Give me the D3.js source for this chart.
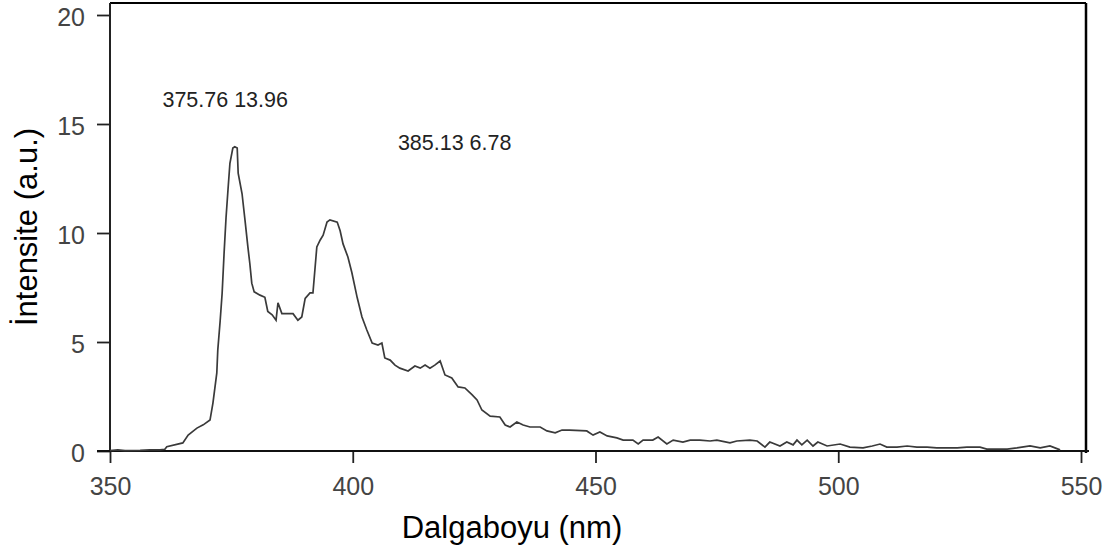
<!DOCTYPE html>
<html>
<head>
<meta charset="utf-8">
<script src="https://cdn.jsdelivr.net/npm/d3@7"></script>
<style>
  html, body { margin: 0; padding: 0; background: #fff; }
  svg { display: block; }
</style>
</head>
<body>
<svg id="chart" width="1112" height="554"></svg>
<script>
// ---- data ----
const wavelength = [350, 351.6, 353.1, 356.2, 358.2, 360.3, 361.3, 361.7, 365.0, 366.1, 367.9, 369.2, 370.6, 371.2, 372.0, 372.2, 372.7, 373.1, 373.5, 373.9, 374.3, 374.7, 375.3, 375.7, 376.2, 376.4, 377.2, 377.8, 378.4, 378.8, 379.2, 379.7, 380.9, 381.9, 382.5, 383.4, 384.2, 384.6, 385.4, 386.5, 387.7, 388.7, 389.5, 390.2, 391.2, 391.8, 392.6, 393.3, 393.9, 394.7, 395.3, 396.8, 397.4, 398.0, 399.0, 399.8, 400.9, 401.9, 402.9, 404.0, 405.2, 406.0, 406.6, 407.7, 408.7, 409.7, 411.4, 412.8, 413.9, 414.9, 415.9, 416.9, 418.0, 419.0, 420.4, 421.7, 423.1, 424.6, 425.6, 426.6, 428.3, 430.3, 431.4, 432.4, 433.8, 435.1, 436.5, 438.6, 440.0, 441.7, 443.1, 444.7, 448.2, 449.5, 450.9, 452.4, 454.4, 455.7, 457.7, 458.8, 459.8, 461.8, 462.9, 464.7, 466.0, 468.0, 469.5, 471.5, 473.6, 475.0, 477.7, 479.1, 481.8, 483.3, 484.9, 485.9, 488.0, 489.4, 490.7, 491.5, 492.5, 493.6, 494.8, 495.8, 497.7, 500.4, 502.4, 505.1, 507.0, 508.6, 510.0, 512.1, 514.2, 516.2, 518.3, 520.3, 521.6, 524.5, 526.5, 529.2, 530.6, 532.7, 534.8, 536.8, 539.5, 541.6, 543.6, 545.7];
const intensity = [0.02, 0.05, 0.02, 0.03, 0.05, 0.05, 0.08, 0.2, 0.37, 0.73, 1.05, 1.2, 1.42, 2.2, 3.58, 4.63, 6.0, 7.25, 9.08, 10.7, 11.97, 13.2, 13.9, 13.96, 13.9, 12.75, 11.8, 10.6, 9.36, 8.6, 7.7, 7.3, 7.15, 7.05, 6.4, 6.25, 6.0, 6.8, 6.3, 6.3, 6.3, 6.0, 6.15, 7.0, 7.25, 7.25, 9.36, 9.68, 9.9, 10.5, 10.6, 10.5, 10.1, 9.5, 8.9, 8.2, 7.05, 6.15, 5.55, 4.95, 4.86, 4.95, 4.27, 4.17, 3.94, 3.8, 3.67, 3.9, 3.8, 3.94, 3.8, 3.94, 4.13, 3.49, 3.35, 2.94, 2.89, 2.57, 2.34, 1.88, 1.6, 1.56, 1.19, 1.1, 1.33, 1.19, 1.1, 1.1, 0.92, 0.83, 0.96, 0.96, 0.92, 0.73, 0.87, 0.69, 0.6, 0.5, 0.5, 0.32, 0.5, 0.5, 0.64, 0.32, 0.5, 0.41, 0.5, 0.5, 0.46, 0.5, 0.37, 0.46, 0.5, 0.46, 0.18, 0.41, 0.23, 0.41, 0.28, 0.5, 0.28, 0.5, 0.23, 0.41, 0.23, 0.32, 0.18, 0.14, 0.23, 0.32, 0.18, 0.18, 0.23, 0.18, 0.18, 0.14, 0.14, 0.14, 0.18, 0.18, 0.09, 0.09, 0.09, 0.14, 0.23, 0.14, 0.23, 0.05];
const xTicks = [350, 400, 450, 500, 550];
const yTicks = [0, 5, 10, 15, 20];
const annotations = [
  { text: "375.76 13.96", wl: 360.8, val: 15.8 },
  { text: "385.13 6.78", wl: 409.3, val: 13.8 }
];
const xTitle = "Dalgaboyu (nm)";
const yTitle = "İntensite (a.u.)";

// ---- scales ----
const svg = d3.select("#chart");
const x = d3.scaleLinear().domain([350, 550]).range([110, 1081]);
const y = d3.scaleLinear().domain([0, 20]).range([451, 15]);
const xMax = x.invert(1086), yMax = y.invert(3);

// frame (top & right)
svg.append("line").attr("x1", x(350)).attr("x2", x(xMax)).attr("y1", y(yMax)).attr("y2", y(yMax))
  .attr("stroke", "#000").attr("stroke-width", 2);
svg.append("line").attr("x1", x(xMax)).attr("x2", x(xMax)).attr("y1", y(yMax)).attr("y2", y(0) + 2)
  .attr("stroke", "#000").attr("stroke-width", 2.5);

// axes
const yAxis = svg.append("g").attr("transform", `translate(${x(350)},0)`)
  .call(d3.axisLeft(y).tickValues(yTicks).tickSize(13).tickPadding(12).tickFormat(d3.format("d")));
yAxis.select(".domain").remove();
yAxis.append("line").attr("x1", 0).attr("x2", 0).attr("y1", y(yMax)).attr("y2", y(0))
  .attr("stroke", "#222").attr("stroke-width", 2);
yAxis.selectAll(".tick line").attr("stroke", "#222").attr("stroke-width", 1.8);
yAxis.selectAll(".tick text").attr("font-family", "Liberation Sans, Arial, sans-serif")
  .attr("font-size", 25).attr("fill", "#444").attr("dy", "0.42em");

const xAxis = svg.append("g").attr("transform", `translate(0,${y(0)})`)
  .call(d3.axisBottom(x).tickValues(xTicks).tickSize(12).tickPadding(14).tickFormat(d3.format("d")));
xAxis.select(".domain").remove();
xAxis.append("line").attr("x1", x(350) - 13).attr("x2", x(xMax) + 3).attr("y1", 0).attr("y2", 0)
  .attr("stroke", "#111").attr("stroke-width", 2);
xAxis.selectAll(".tick line").attr("stroke", "#222").attr("stroke-width", 1.8);
xAxis.selectAll(".tick text").attr("font-family", "Liberation Sans, Arial, sans-serif")
  .attr("font-size", 25).attr("fill", "#444");

// data line
const pts = wavelength.map((w, i) => [w, intensity[i]]);
svg.append("path").datum(pts)
  .attr("fill", "none").attr("stroke", "#3a3a3a").attr("stroke-width", 1.7)
  .attr("stroke-linejoin", "miter")
  .attr("d", d3.line().x(d => x(d[0])).y(d => y(d[1])));

// annotations
svg.selectAll("text.ann").data(annotations).join("text").attr("class", "ann")
  .attr("x", d => x(d.wl)).attr("y", d => y(d.val))
  .attr("font-family", "Liberation Sans, Arial, sans-serif").attr("font-size", 21.5)
  .attr("fill", "#222").text(d => d.text);

// axis titles
svg.append("text").attr("x", 512).attr("y", 538).attr("text-anchor", "middle")
  .attr("font-family", "Liberation Sans, Arial, sans-serif").attr("font-size", 31)
  .attr("fill", "#000").text(xTitle);
svg.append("text").attr("transform", "translate(37,227) rotate(-90)").attr("text-anchor", "middle")
  .attr("font-family", "Liberation Sans, Arial, sans-serif").attr("font-size", 31)
  .attr("fill", "#000").text(yTitle);
</script>
</body>
</html>
